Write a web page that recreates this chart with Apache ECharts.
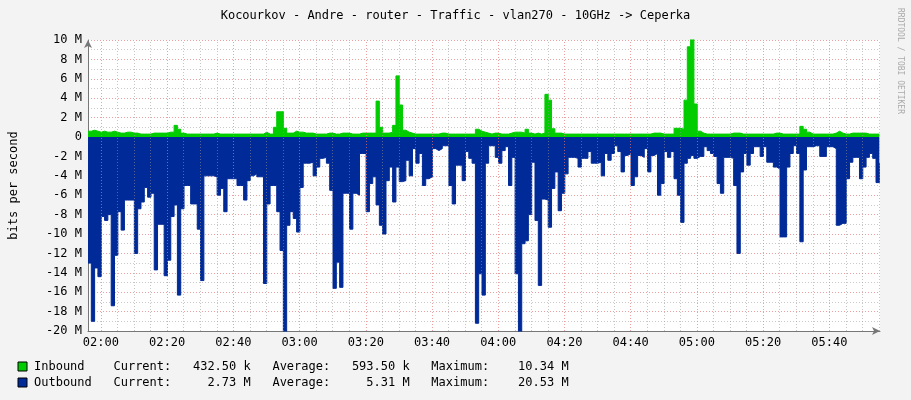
<!DOCTYPE html>
<html>
<head>
<meta charset="utf-8">
<script src="https://cdn.jsdelivr.net/npm/echarts@6/dist/echarts.min.js"></script>
<style>
  html, body { margin: 0; padding: 0; background: #f3f3f3; }
  #chart { width: 911px; height: 400px; }
</style>
</head>
<body>
<div id="chart"></div>
<script>
// one sample per minute, starting at 01:56 (minutes since midnight)
let startMinute = 116.1;
let inbound = [
    .6,.7,.6,.5,.6,.5,.5,.6,.5,.4, .4,.5,.5,.4,.4,.3,.3,.3,.3,.4,
    .4,.4,.4,.4,.5,.5,1.2,.8,.4,.3, .3,.3,.3,.3,.3,.3,.3,.3,.4,.3,
    .3,.3,.3,.3,.3,.3,.3,.3,.3,.3, .3,.3,.3,.5,.3,.3,1,2.6,2.6,.9,
    .4,.4,.6,.5,.5,.4,.4,.4,.3,.3, .3,.3,.4,.4,.3,.3,.4,.4,.4,.3,
    .3,.3,.4,.4,.4,.4,.4,3.7,1,.4, .4,.5,1.2,6.3,3.3,.7,.5,.4,.3,.3,
    .3,.3,.3,.3,.3,.3,.4,.4,.3,.3, .3,.3,.3,.3,.3,.3,.3,.8,.6,.5,
    .4,.3,.4,.4,.3,.3,.3,.4,.5,.5, .5,.4,.8,.4,.3,.4,.3,.4,4.4,3.8,
    .85,.4,.4,.3,.3,.3,.3,.3,.3,.3, .3,.3,.3,.3,.3,.3,.3,.3,.3,.3,
    .3,.3,.3,.3,.3,.3,.3,.3,.3,.3, .4,.4,.4,.3,.3,.3,.3,.9,.9,.8,
    3.8,9.3,10.4,3.4,.6,.4,.3,.3,.3,.3, .3,.3,.3,.3,.4,.4,.4,.3,.3,.3,
    .3,.3,.3,.3,.3,.3,.3,.4,.4,.3, .3,.3,.3,.3,.3,1.1,.8,.5,.3,.3,
    .3,.3,.3,.3,.3,.4,.6,.4,.3,.3, .4,.4,.4,.4,.4,.3,.3,.3,.3,.3
];
let outbound = [
    -13,-19,-13.5,-14.4,-8.2,-8.6,-8,-17.4,-12.2,-7.7, -9.6,-6.5,-6.5,-6.5,-12,-7.4,-6.7,-5.2,-6.2,-5.8,
    -13.7,-9,-9,-14.3,-12.7,-8.2,-7,-16.3,-7.4,-5, -5,-6.9,-6.9,-9.5,-14.8,-4,-4,-4,-4.1,-6,
    -5.3,-7.7,-4.3,-4.3,-4.3,-5,-5,-6.5,-4.5,-4, -3.8,-4.1,-4.1,-15.1,-6.9,-5,-5,-7.7,-11.7,-20.6,
    -9.1,-7.7,-8.4,-9.8,-5.2,-2.7,-2.7,-2.6,-4,-3.1, -2.2,-2.1,-2.7,-5.5,-15.6,-12.9,-15.5,-5.8,-5.8,-9.5,
    -5.8,-6,-1.7,-1.7,-7.7,-4.8,-4.1,-7,-9.1,-10, -4.5,-3.1,-6.7,-3.1,-4.6,-4.5,-2.4,-4,-1.2,-2.7,
    -1.7,-5,-4.3,-4.1,-1.2,-1.4,-1.2,-.9,-.9,-5, -6.9,-2.9,-2.9,-4.5,-1.5,-2.2,-2.7,-19.2,-14.1,-16.3,
    -2.7,-.9,-.9,-2.1,-2.7,-1.4,-1,-5,-2.1,-14.1, -20.3,-11,-10.7,-8,-2.6,-8.6,-15.3,-6.4,-6.5,-9.3,
    -5.3,-3.6,-7.6,-5.8,-3.8,-2.1,-2.1,-2.2,-3.1,-2.2, -2.2,-1.5,-2.7,-2.7,-2.6,-4,-1.7,-2.4,-1.7,-.9,
    -1.5,-3.6,-1.9,-1.7,-5,-4.1,-1.9,-2.1,-1.2,-3.6, -1.9,-1.7,-6,-4.8,-1.5,-2.1,-1.5,-4.3,-6,-8.8,
    -2.7,-2.2,-1.9,-2.2,-2,-2,-1,-1.4,-1.7,-2, -4.8,-5.8,-2.1,-2.1,-2.2,-5,-12,-3.6,-1.7,-2.9,
    -1.7,-1,-1,-2,-1,-2.6,-2.6,-3.1,-3.3,-10.3, -10.3,-3.1,-1.7,-.9,-1.7,-10.8,-3.4,-1,-1,-.9,
    -.9,-2,-2,-1,-1,-1.2,-9.1,-8.9,-8.9,-4.3, -2.6,-2.1,-2.1,-4.3,-3.1,-2.1,-1.7,-2.2,-4.7,-2.7
];
let timeTicks = [120, 140, 160, 180, 200, 220, 240, 260, 280, 300, 320, 340];
let minorTicks = [];
for (let m = 120; m <= 355; m += 5) minorTicks.push(m);
let legendRows = [
    'Inbound    Current:   432.50 k   Average:   593.50 k   Maximum:    10.34 M',
    'Outbound   Current:     2.73 M   Average:     5.31 M   Maximum:    20.53 M'
];

function toPoints(values) {
    return values.map(function (v, i) { return [startMinute + i, v]; });
}
function hhmm(m) {
    let h = Math.floor(m / 60), mm = m % 60;
    return (h < 10 ? '0' : '') + h + ':' + (mm < 10 ? '0' : '') + mm;
}

let mono = 'DejaVu Sans Mono';
let vLines = minorTicks.map(function (m) {
    let major = timeTicks.indexOf(m) >= 0;
    return {
        xAxis: m,
        lineStyle: major
            ? { color: 'rgba(230,120,120,0.7)', type: [1, 2], width: 1 }
            : { color: 'rgba(150,150,150,0.55)', type: [1, 2], width: 1 }
    };
});

let chart = echarts.init(document.getElementById('chart'));
chart.setOption({
    animation: false,
    backgroundColor: '#f3f3f3',
    title: {
        text: 'Kocourkov - Andre - router - Traffic - vlan270 - 10GHz -> Ceperka',
        left: 'center', top: 5,
        textStyle: { fontFamily: mono, fontSize: 12, fontWeight: 'normal', color: '#000' }
    },
    grid: { left: 81, right: 31, top: 40, bottom: 69, show: true, backgroundColor: '#fff', borderWidth: 0 },
    xAxis: {
        type: 'value', min: startMinute, max: 355.3,
        axisLine: { onZero: false, lineStyle: { color: '#777' }, symbol: ['none', 'arrow'], symbolSize: [6, 8] },
        axisTick: { show: false },
        splitLine: { show: false },
        axisLabel: {
            customValues: timeTicks, formatter: hhmm, margin: 6,
            fontFamily: mono, fontSize: 12, color: '#000'
        }
    },
    yAxis: {
        type: 'value', min: -20, max: 10, interval: 2,
        name: 'bits per second', nameLocation: 'middle', nameGap: 68, nameRotate: 90,
        nameTextStyle: { fontFamily: mono, fontSize: 12, color: '#000' },
        axisLine: { show: true, lineStyle: { color: '#777' }, symbol: ['none', 'arrow'], symbolSize: [6, 8] },
        axisTick: { show: false },
        splitLine: { lineStyle: { color: 'rgba(230,120,120,0.7)', type: [1, 2] } },
        minorTick: { show: false, splitNumber: 2 },
        minorSplitLine: { show: true, lineStyle: { color: 'rgba(150,150,150,0.5)', type: [1, 2] } },
        axisLabel: {
            formatter: function (v) { return v === 0 ? '0' : v + ' M'; },
            fontFamily: mono, fontSize: 12, color: '#000', margin: 6
        }
    },
    series: [
        {
            name: 'Inbound', type: 'line', step: 'end', data: toPoints(inbound),
            showSymbol: false, lineStyle: { width: 1, color: '#00cc00' },
            areaStyle: { color: '#00cc00', opacity: 1 }, z: 2
        },
        {
            name: 'Outbound', type: 'line', step: 'end', data: toPoints(outbound),
            showSymbol: false, lineStyle: { width: 1, color: '#002a97' },
            areaStyle: { color: '#002a97', opacity: 1 }, z: 2,
            markLine: { silent: true, symbol: 'none', label: { show: false }, data: vLines }
        }
    ],
    graphic: [
        {
            type: 'text', left: 896, top: 8, rotation: -Math.PI / 2, originX: 0, originY: 0,
            style: { text: 'RRDTOOL / TOBI OETIKER', fontFamily: mono, fontSize: 8, fill: '#aaa' }
        },
        { type: 'rect', shape: { x: 18, y: 362, width: 9, height: 9 }, style: { fill: '#00cc00', stroke: '#000' } },
        { type: 'rect', shape: { x: 18, y: 378, width: 9, height: 9 }, style: { fill: '#002a97', stroke: '#000' } },
        { type: 'text', left: 34, top: 361, style: { text: legendRows[0], fontFamily: mono, fontSize: 12, fill: '#000' } },
        { type: 'text', left: 34, top: 377, style: { text: legendRows[1], fontFamily: mono, fontSize: 12, fill: '#000' } }
    ]
});
</script>
</body>
</html>
